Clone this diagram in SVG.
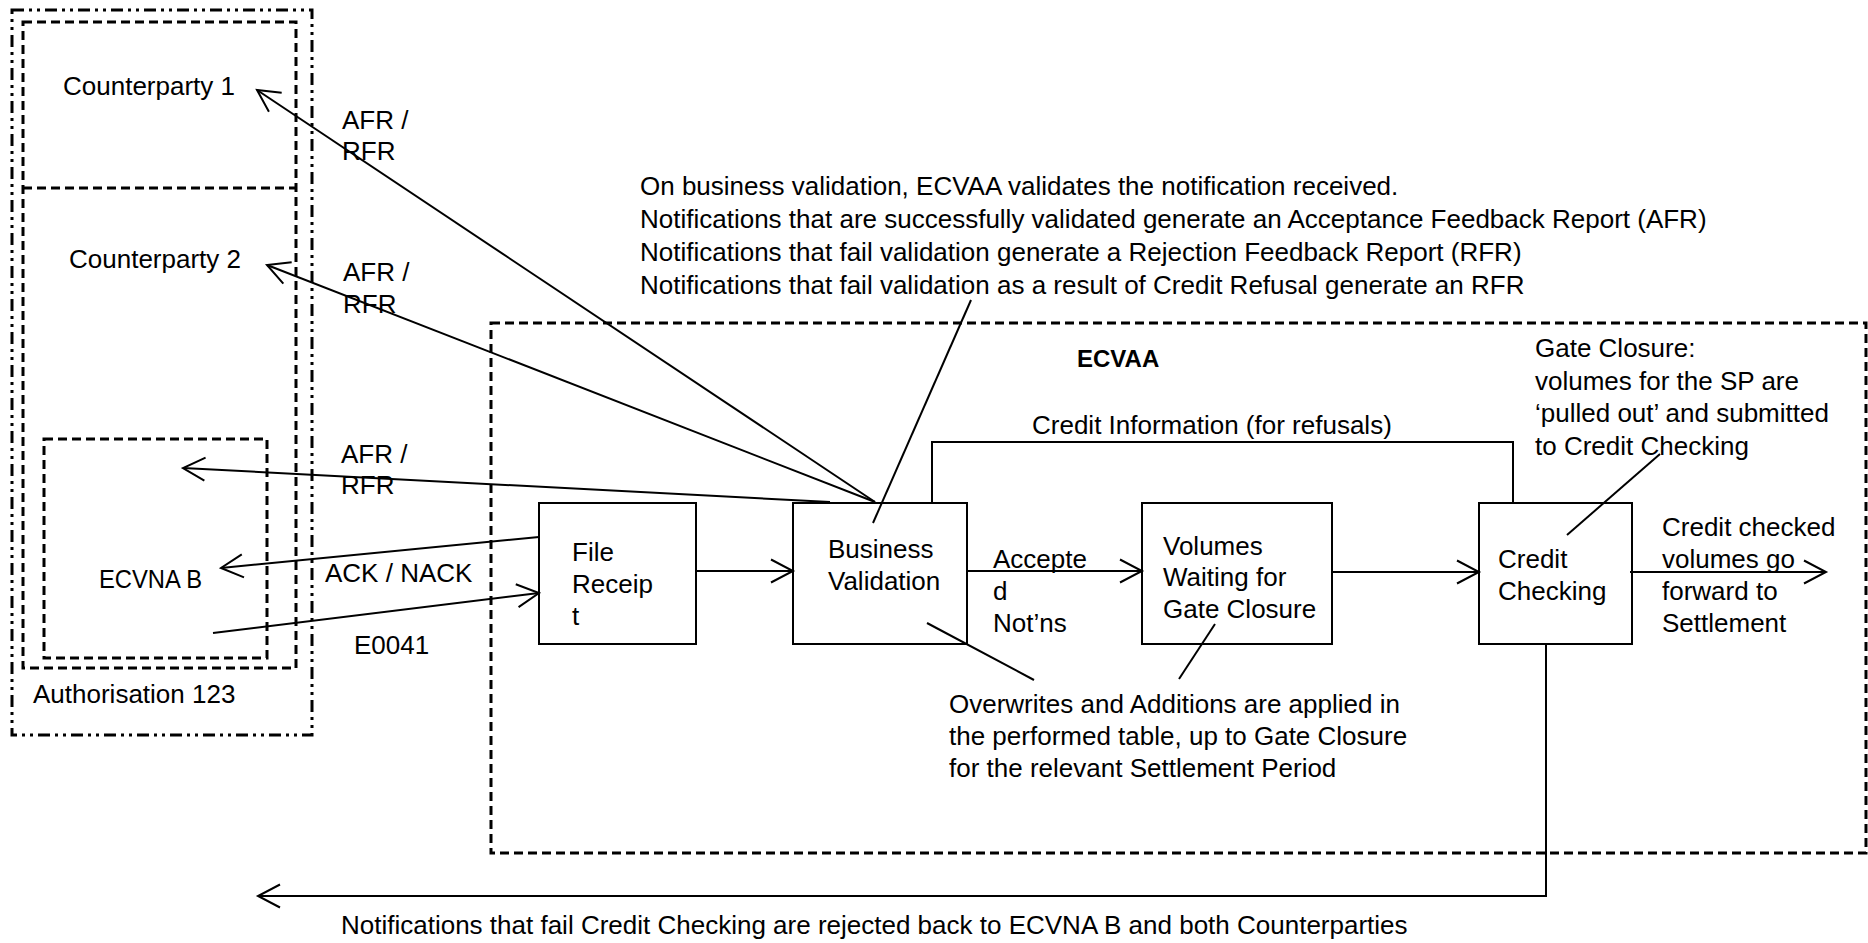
<svg xmlns="http://www.w3.org/2000/svg" width="1868" height="943" viewBox="0 0 1868 943">
<style>
text{font-family:"Liberation Sans",Arial,sans-serif;font-size:26px;fill:#000}
.b{font-weight:bold;font-size:24px}
.box{fill:#fff;stroke:#000;stroke-width:2}
.dash{fill:none;stroke:#000;stroke-width:3;stroke-dasharray:9 5}
.dd{fill:none;stroke:#000;stroke-width:3;stroke-dasharray:12 5 3 5 3 5}
.ln{fill:none;stroke:#000;stroke-width:2}
.ar{marker-end:url(#arr)}
</style>
<defs>
<marker id="arr" markerUnits="userSpaceOnUse" markerWidth="30" markerHeight="30" viewBox="-26 -15 30 30" refX="0" refY="0" orient="auto" overflow="visible">
<path d="M-22,-11.5 L0,0 L-22,11.5" fill="none" stroke="#000" stroke-width="2"/>
</marker>
</defs>
<rect width="1868" height="943" fill="#fff"/>

<g id="authorisation">
<rect class="dd" x="12" y="10" width="300" height="725"/>
<text x="33" y="703">Authorisation 123</text>
</g>
<g id="counterparties">
<rect class="dash" x="23" y="22" width="273" height="646"/>
<line class="dash" x1="23" y1="188" x2="296" y2="188"/>
<text x="63" y="95">Counterparty 1</text>
<text x="69" y="268">Counterparty 2</text>
</g>
<g id="ecvna-b">
<rect class="dash" x="44" y="439" width="223" height="219"/>
<text x="99" y="588" textLength="103" lengthAdjust="spacingAndGlyphs">ECVNA B</text>
</g>
<g id="ecvaa">
<rect class="dash" x="491" y="323" width="1375" height="530"/>
<text class="b" x="1077" y="367">ECVAA</text>
</g>
<g id="file-receipt">
<rect class="box" x="539" y="503" width="157" height="141"/>
<text x="572" y="561">File</text>
<text x="572" y="593">Receip</text>
<text x="572" y="625">t</text>
</g>
<g id="business-validation">
<rect class="box" x="793" y="503" width="174" height="141"/>
<text x="828" y="558">Business</text>
<text x="828" y="590">Validation</text>
</g>
<g id="volumes-waiting">
<rect class="box" x="1142" y="503" width="190" height="141"/>
<text x="1163" y="555">Volumes</text>
<text x="1163" y="586">Waiting for</text>
<text x="1163" y="618">Gate Closure</text>
</g>
<g id="credit-checking">
<rect class="box" x="1479" y="503" width="153" height="141"/>
<text x="1498" y="568">Credit</text>
<text x="1498" y="600">Checking</text>
</g>

<g id="connectors">
<path class="ln ar" d="M875,502 L257,90"/>
<path class="ln ar" d="M875,502 L267,265"/>
<path class="ln ar" d="M830,502 L183,468"/>
<path class="ln ar" d="M539,537 L221,568"/>
<path class="ln ar" d="M213,633 L539,593"/>
<path class="ln ar" d="M695,571 L793,571"/>
<path class="ln ar" d="M967,571 L1142,571"/>
<path class="ln ar" d="M1332,572 L1479,572"/>
<path class="ln ar" d="M1630,572 L1826,572"/>
<path class="ln" d="M932,503 V442 H1513 V503"/>
<path class="ln ar" d="M1546,644 V896 H258"/>
<path class="ln" d="M873,523 L971,300"/>
<path class="ln" d="M927,623 L1034,680"/>
<path class="ln" d="M1215,624 L1179,679"/>
<path class="ln" d="M1660,454 L1567,535"/>
</g>

<g id="labels">
<text x="342" y="129">AFR /</text>
<text x="342" y="160">RFR</text>
<text x="343" y="281">AFR /</text>
<text x="343" y="313">RFR</text>
<text x="341" y="463">AFR /</text>
<text x="341" y="494">RFR</text>
<text x="325" y="582">ACK / NACK</text>
<text x="354" y="654">E0041</text>
<text x="993" y="568">Accepte</text>
<text x="993" y="600">d</text>
<text x="993" y="632">Not’ns</text>
<text x="1032" y="434">Credit Information (for refusals)</text>
</g>

<g id="notes">
<text x="640" y="195">On business validation, ECVAA validates the notification received.</text>
<text x="640" y="228">Notifications that are successfully validated generate an Acceptance Feedback Report (AFR)</text>
<text x="640" y="261">Notifications that fail validation generate a Rejection Feedback Report (RFR)</text>
<text x="640" y="294">Notifications that fail validation as a result of Credit Refusal generate an RFR</text>
<text x="1535" y="357">Gate Closure:</text>
<text x="1535" y="390">volumes for the SP are</text>
<text x="1535" y="422">‘pulled out’ and submitted</text>
<text x="1535" y="455">to Credit Checking</text>
<text x="1662" y="536">Credit checked</text>
<text x="1662" y="568">volumes go</text>
<text x="1662" y="600">forward to</text>
<text x="1662" y="632">Settlement</text>
<text x="949" y="713">Overwrites and Additions are applied in</text>
<text x="949" y="745">the performed table, up to Gate Closure</text>
<text x="949" y="777">for the relevant Settlement Period</text>
<text x="341" y="934">Notifications that fail Credit Checking are rejected back to ECVNA B and both Counterparties</text>
</g>
</svg>
